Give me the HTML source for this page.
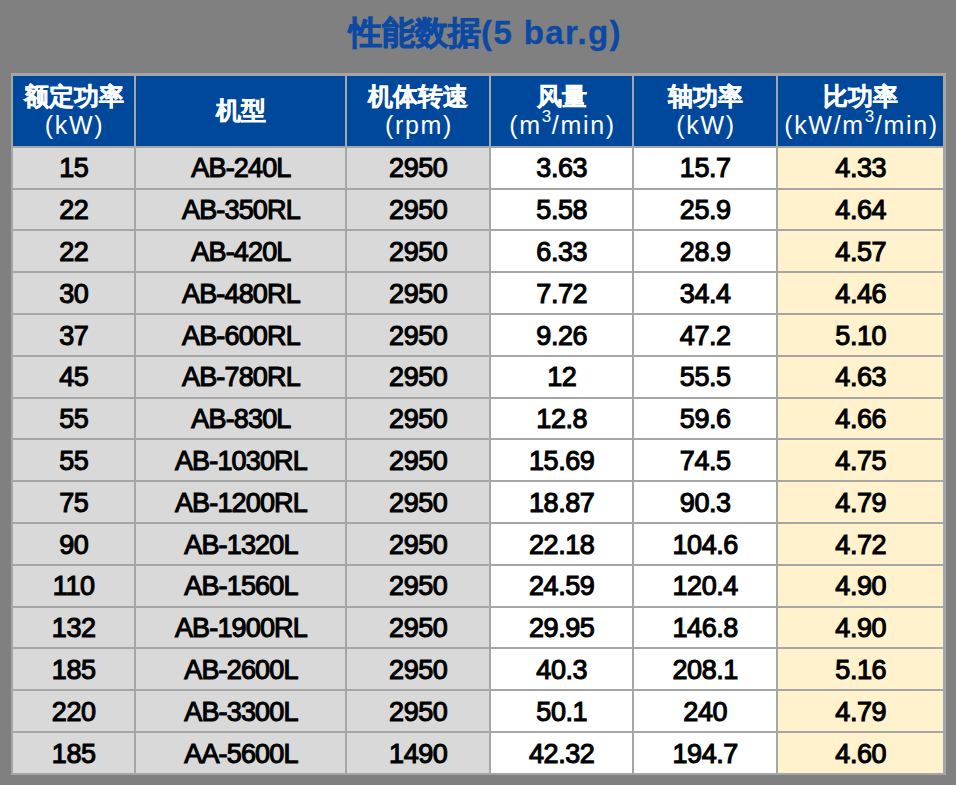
<!DOCTYPE html>
<html><head><meta charset="utf-8"><style>
html,body{margin:0;padding:0;}
body{width:956px;height:785px;background:#808080;position:relative;overflow:hidden;font-family:"Liberation Sans",sans-serif;}
.a{position:absolute;}
.l{position:absolute;background:#a6a6a6;}
.t{position:absolute;text-align:center;white-space:nowrap;}
.d{font-size:27px;line-height:30px;color:#000;letter-spacing:-0.8px;-webkit-text-stroke:1.1px #000;}
.h1{font-weight:bold;font-size:25px;line-height:28px;color:#fff;-webkit-text-stroke:0.4px #fff;}
.h2{font-size:25px;line-height:28px;color:#fff;letter-spacing:1.7px;text-indent:2px;}
.title{position:absolute;left:0;width:956px;top:14px;text-align:center;text-indent:15px;font-weight:bold;font-size:33px;line-height:38px;color:#0b49a4;white-space:nowrap;-webkit-text-stroke:0.8px #0b49a4;}
.tl{letter-spacing:1.4px;-webkit-text-stroke:0.3px #0b49a4;}
sup{font-size:17px;line-height:17px;vertical-align:top;position:relative;top:-3px;letter-spacing:0.5px;}
</style></head><body>

<div class="title"><span class="tc">性能数据</span><span class="tl">(5 bar.g)</span></div>
<div class="l" style="left:11px;top:73px;width:935px;height:702px"></div>
<div class="a" style="left:13px;top:76px;width:121px;height:70px;background:#00489b"></div>
<div class="a" style="left:136px;top:76px;width:209px;height:70px;background:#00489b"></div>
<div class="a" style="left:347px;top:76px;width:142px;height:70px;background:#00489b"></div>
<div class="a" style="left:491px;top:76px;width:141px;height:70px;background:#00489b"></div>
<div class="a" style="left:634px;top:76px;width:142px;height:70px;background:#00489b"></div>
<div class="a" style="left:778px;top:76px;width:165px;height:70px;background:#00489b"></div>
<div class="a" style="left:13px;top:148px;width:121px;height:40px;background:#d9d9d9"></div>
<div class="a" style="left:136px;top:148px;width:209px;height:40px;background:#d9d9d9"></div>
<div class="a" style="left:347px;top:148px;width:142px;height:40px;background:#d9d9d9"></div>
<div class="a" style="left:491px;top:148px;width:141px;height:40px;background:#ffffff"></div>
<div class="a" style="left:634px;top:148px;width:142px;height:40px;background:#ffffff"></div>
<div class="a" style="left:778px;top:148px;width:165px;height:40px;background:#fff2cc"></div>
<div class="a" style="left:13px;top:190px;width:121px;height:39px;background:#d9d9d9"></div>
<div class="a" style="left:136px;top:190px;width:209px;height:39px;background:#d9d9d9"></div>
<div class="a" style="left:347px;top:190px;width:142px;height:39px;background:#d9d9d9"></div>
<div class="a" style="left:491px;top:190px;width:141px;height:39px;background:#ffffff"></div>
<div class="a" style="left:634px;top:190px;width:142px;height:39px;background:#ffffff"></div>
<div class="a" style="left:778px;top:190px;width:165px;height:39px;background:#fff2cc"></div>
<div class="a" style="left:13px;top:231px;width:121px;height:40px;background:#d9d9d9"></div>
<div class="a" style="left:136px;top:231px;width:209px;height:40px;background:#d9d9d9"></div>
<div class="a" style="left:347px;top:231px;width:142px;height:40px;background:#d9d9d9"></div>
<div class="a" style="left:491px;top:231px;width:141px;height:40px;background:#ffffff"></div>
<div class="a" style="left:634px;top:231px;width:142px;height:40px;background:#ffffff"></div>
<div class="a" style="left:778px;top:231px;width:165px;height:40px;background:#fff2cc"></div>
<div class="a" style="left:13px;top:273px;width:121px;height:40px;background:#d9d9d9"></div>
<div class="a" style="left:136px;top:273px;width:209px;height:40px;background:#d9d9d9"></div>
<div class="a" style="left:347px;top:273px;width:142px;height:40px;background:#d9d9d9"></div>
<div class="a" style="left:491px;top:273px;width:141px;height:40px;background:#ffffff"></div>
<div class="a" style="left:634px;top:273px;width:142px;height:40px;background:#ffffff"></div>
<div class="a" style="left:778px;top:273px;width:165px;height:40px;background:#fff2cc"></div>
<div class="a" style="left:13px;top:315px;width:121px;height:40px;background:#d9d9d9"></div>
<div class="a" style="left:136px;top:315px;width:209px;height:40px;background:#d9d9d9"></div>
<div class="a" style="left:347px;top:315px;width:142px;height:40px;background:#d9d9d9"></div>
<div class="a" style="left:491px;top:315px;width:141px;height:40px;background:#ffffff"></div>
<div class="a" style="left:634px;top:315px;width:142px;height:40px;background:#ffffff"></div>
<div class="a" style="left:778px;top:315px;width:165px;height:40px;background:#fff2cc"></div>
<div class="a" style="left:13px;top:357px;width:121px;height:40px;background:#d9d9d9"></div>
<div class="a" style="left:136px;top:357px;width:209px;height:40px;background:#d9d9d9"></div>
<div class="a" style="left:347px;top:357px;width:142px;height:40px;background:#d9d9d9"></div>
<div class="a" style="left:491px;top:357px;width:141px;height:40px;background:#ffffff"></div>
<div class="a" style="left:634px;top:357px;width:142px;height:40px;background:#ffffff"></div>
<div class="a" style="left:778px;top:357px;width:165px;height:40px;background:#fff2cc"></div>
<div class="a" style="left:13px;top:399px;width:121px;height:39px;background:#d9d9d9"></div>
<div class="a" style="left:136px;top:399px;width:209px;height:39px;background:#d9d9d9"></div>
<div class="a" style="left:347px;top:399px;width:142px;height:39px;background:#d9d9d9"></div>
<div class="a" style="left:491px;top:399px;width:141px;height:39px;background:#ffffff"></div>
<div class="a" style="left:634px;top:399px;width:142px;height:39px;background:#ffffff"></div>
<div class="a" style="left:778px;top:399px;width:165px;height:39px;background:#fff2cc"></div>
<div class="a" style="left:13px;top:440px;width:121px;height:40px;background:#d9d9d9"></div>
<div class="a" style="left:136px;top:440px;width:209px;height:40px;background:#d9d9d9"></div>
<div class="a" style="left:347px;top:440px;width:142px;height:40px;background:#d9d9d9"></div>
<div class="a" style="left:491px;top:440px;width:141px;height:40px;background:#ffffff"></div>
<div class="a" style="left:634px;top:440px;width:142px;height:40px;background:#ffffff"></div>
<div class="a" style="left:778px;top:440px;width:165px;height:40px;background:#fff2cc"></div>
<div class="a" style="left:13px;top:482px;width:121px;height:40px;background:#d9d9d9"></div>
<div class="a" style="left:136px;top:482px;width:209px;height:40px;background:#d9d9d9"></div>
<div class="a" style="left:347px;top:482px;width:142px;height:40px;background:#d9d9d9"></div>
<div class="a" style="left:491px;top:482px;width:141px;height:40px;background:#ffffff"></div>
<div class="a" style="left:634px;top:482px;width:142px;height:40px;background:#ffffff"></div>
<div class="a" style="left:778px;top:482px;width:165px;height:40px;background:#fff2cc"></div>
<div class="a" style="left:13px;top:524px;width:121px;height:40px;background:#d9d9d9"></div>
<div class="a" style="left:136px;top:524px;width:209px;height:40px;background:#d9d9d9"></div>
<div class="a" style="left:347px;top:524px;width:142px;height:40px;background:#d9d9d9"></div>
<div class="a" style="left:491px;top:524px;width:141px;height:40px;background:#ffffff"></div>
<div class="a" style="left:634px;top:524px;width:142px;height:40px;background:#ffffff"></div>
<div class="a" style="left:778px;top:524px;width:165px;height:40px;background:#fff2cc"></div>
<div class="a" style="left:13px;top:566px;width:121px;height:40px;background:#d9d9d9"></div>
<div class="a" style="left:136px;top:566px;width:209px;height:40px;background:#d9d9d9"></div>
<div class="a" style="left:347px;top:566px;width:142px;height:40px;background:#d9d9d9"></div>
<div class="a" style="left:491px;top:566px;width:141px;height:40px;background:#ffffff"></div>
<div class="a" style="left:634px;top:566px;width:142px;height:40px;background:#ffffff"></div>
<div class="a" style="left:778px;top:566px;width:165px;height:40px;background:#fff2cc"></div>
<div class="a" style="left:13px;top:608px;width:121px;height:39px;background:#d9d9d9"></div>
<div class="a" style="left:136px;top:608px;width:209px;height:39px;background:#d9d9d9"></div>
<div class="a" style="left:347px;top:608px;width:142px;height:39px;background:#d9d9d9"></div>
<div class="a" style="left:491px;top:608px;width:141px;height:39px;background:#ffffff"></div>
<div class="a" style="left:634px;top:608px;width:142px;height:39px;background:#ffffff"></div>
<div class="a" style="left:778px;top:608px;width:165px;height:39px;background:#fff2cc"></div>
<div class="a" style="left:13px;top:649px;width:121px;height:40px;background:#d9d9d9"></div>
<div class="a" style="left:136px;top:649px;width:209px;height:40px;background:#d9d9d9"></div>
<div class="a" style="left:347px;top:649px;width:142px;height:40px;background:#d9d9d9"></div>
<div class="a" style="left:491px;top:649px;width:141px;height:40px;background:#ffffff"></div>
<div class="a" style="left:634px;top:649px;width:142px;height:40px;background:#ffffff"></div>
<div class="a" style="left:778px;top:649px;width:165px;height:40px;background:#fff2cc"></div>
<div class="a" style="left:13px;top:691px;width:121px;height:40px;background:#d9d9d9"></div>
<div class="a" style="left:136px;top:691px;width:209px;height:40px;background:#d9d9d9"></div>
<div class="a" style="left:347px;top:691px;width:142px;height:40px;background:#d9d9d9"></div>
<div class="a" style="left:491px;top:691px;width:141px;height:40px;background:#ffffff"></div>
<div class="a" style="left:634px;top:691px;width:142px;height:40px;background:#ffffff"></div>
<div class="a" style="left:778px;top:691px;width:165px;height:40px;background:#fff2cc"></div>
<div class="a" style="left:13px;top:733px;width:121px;height:40px;background:#d9d9d9"></div>
<div class="a" style="left:136px;top:733px;width:209px;height:40px;background:#d9d9d9"></div>
<div class="a" style="left:347px;top:733px;width:142px;height:40px;background:#d9d9d9"></div>
<div class="a" style="left:491px;top:733px;width:141px;height:40px;background:#ffffff"></div>
<div class="a" style="left:634px;top:733px;width:142px;height:40px;background:#ffffff"></div>
<div class="a" style="left:778px;top:733px;width:165px;height:40px;background:#fff2cc"></div>
<div class="t h1" style="left:13px;width:121px;top:82px">额定功率</div>
<div class="t h2" style="left:13px;width:121px;top:111px">(kW)</div>
<div class="t h1" style="left:136px;width:209px;top:96px">机型</div>
<div class="t h1" style="left:347px;width:142px;top:82px">机体转速</div>
<div class="t h2" style="left:347px;width:142px;top:111px">(rpm)</div>
<div class="t h1" style="left:491px;width:141px;top:82px">风量</div>
<div class="t h2" style="left:491px;width:141px;top:111px">(m<sup>3</sup>/min)</div>
<div class="t h1" style="left:634px;width:142px;top:82px">轴功率</div>
<div class="t h2" style="left:634px;width:142px;top:111px">(kW)</div>
<div class="t h1" style="left:778px;width:165px;top:82px">比功率</div>
<div class="t h2" style="left:778px;width:165px;top:111px">(kW/m<sup>3</sup>/min)</div>
<div class="t d" style="left:13px;width:121px;top:153.30px;letter-spacing:-0.45px;text-indent:0.45px">15</div>
<div class="t d" style="left:136px;width:209px;top:153.30px;letter-spacing:-0.85px;text-indent:0.85px">AB-240L</div>
<div class="t d" style="left:347px;width:142px;top:153.30px;letter-spacing:-0.45px;text-indent:0.45px">2950</div>
<div class="t d" style="left:491px;width:141px;top:153.30px;letter-spacing:-0.45px;text-indent:0.45px">3.63</div>
<div class="t d" style="left:634px;width:142px;top:153.30px;letter-spacing:-0.45px;text-indent:0.45px">15.7</div>
<div class="t d" style="left:778px;width:165px;top:153.30px;letter-spacing:-0.45px;text-indent:0.45px">4.33</div>
<div class="t d" style="left:13px;width:121px;top:195.10px;letter-spacing:-0.45px;text-indent:0.45px">22</div>
<div class="t d" style="left:136px;width:209px;top:195.10px;letter-spacing:-0.85px;text-indent:0.85px">AB-350RL</div>
<div class="t d" style="left:347px;width:142px;top:195.10px;letter-spacing:-0.45px;text-indent:0.45px">2950</div>
<div class="t d" style="left:491px;width:141px;top:195.10px;letter-spacing:-0.45px;text-indent:0.45px">5.58</div>
<div class="t d" style="left:634px;width:142px;top:195.10px;letter-spacing:-0.45px;text-indent:0.45px">25.9</div>
<div class="t d" style="left:778px;width:165px;top:195.10px;letter-spacing:-0.45px;text-indent:0.45px">4.64</div>
<div class="t d" style="left:13px;width:121px;top:236.90px;letter-spacing:-0.45px;text-indent:0.45px">22</div>
<div class="t d" style="left:136px;width:209px;top:236.90px;letter-spacing:-0.85px;text-indent:0.85px">AB-420L</div>
<div class="t d" style="left:347px;width:142px;top:236.90px;letter-spacing:-0.45px;text-indent:0.45px">2950</div>
<div class="t d" style="left:491px;width:141px;top:236.90px;letter-spacing:-0.45px;text-indent:0.45px">6.33</div>
<div class="t d" style="left:634px;width:142px;top:236.90px;letter-spacing:-0.45px;text-indent:0.45px">28.9</div>
<div class="t d" style="left:778px;width:165px;top:236.90px;letter-spacing:-0.45px;text-indent:0.45px">4.57</div>
<div class="t d" style="left:13px;width:121px;top:278.70px;letter-spacing:-0.45px;text-indent:0.45px">30</div>
<div class="t d" style="left:136px;width:209px;top:278.70px;letter-spacing:-0.85px;text-indent:0.85px">AB-480RL</div>
<div class="t d" style="left:347px;width:142px;top:278.70px;letter-spacing:-0.45px;text-indent:0.45px">2950</div>
<div class="t d" style="left:491px;width:141px;top:278.70px;letter-spacing:-0.45px;text-indent:0.45px">7.72</div>
<div class="t d" style="left:634px;width:142px;top:278.70px;letter-spacing:-0.45px;text-indent:0.45px">34.4</div>
<div class="t d" style="left:778px;width:165px;top:278.70px;letter-spacing:-0.45px;text-indent:0.45px">4.46</div>
<div class="t d" style="left:13px;width:121px;top:320.50px;letter-spacing:-0.45px;text-indent:0.45px">37</div>
<div class="t d" style="left:136px;width:209px;top:320.50px;letter-spacing:-0.85px;text-indent:0.85px">AB-600RL</div>
<div class="t d" style="left:347px;width:142px;top:320.50px;letter-spacing:-0.45px;text-indent:0.45px">2950</div>
<div class="t d" style="left:491px;width:141px;top:320.50px;letter-spacing:-0.45px;text-indent:0.45px">9.26</div>
<div class="t d" style="left:634px;width:142px;top:320.50px;letter-spacing:-0.45px;text-indent:0.45px">47.2</div>
<div class="t d" style="left:778px;width:165px;top:320.50px;letter-spacing:-0.45px;text-indent:0.45px">5.10</div>
<div class="t d" style="left:13px;width:121px;top:362.30px;letter-spacing:-0.45px;text-indent:0.45px">45</div>
<div class="t d" style="left:136px;width:209px;top:362.30px;letter-spacing:-0.85px;text-indent:0.85px">AB-780RL</div>
<div class="t d" style="left:347px;width:142px;top:362.30px;letter-spacing:-0.45px;text-indent:0.45px">2950</div>
<div class="t d" style="left:491px;width:141px;top:362.30px;letter-spacing:-0.45px;text-indent:0.45px">12</div>
<div class="t d" style="left:634px;width:142px;top:362.30px;letter-spacing:-0.45px;text-indent:0.45px">55.5</div>
<div class="t d" style="left:778px;width:165px;top:362.30px;letter-spacing:-0.45px;text-indent:0.45px">4.63</div>
<div class="t d" style="left:13px;width:121px;top:404.10px;letter-spacing:-0.45px;text-indent:0.45px">55</div>
<div class="t d" style="left:136px;width:209px;top:404.10px;letter-spacing:-0.85px;text-indent:0.85px">AB-830L</div>
<div class="t d" style="left:347px;width:142px;top:404.10px;letter-spacing:-0.45px;text-indent:0.45px">2950</div>
<div class="t d" style="left:491px;width:141px;top:404.10px;letter-spacing:-0.45px;text-indent:0.45px">12.8</div>
<div class="t d" style="left:634px;width:142px;top:404.10px;letter-spacing:-0.45px;text-indent:0.45px">59.6</div>
<div class="t d" style="left:778px;width:165px;top:404.10px;letter-spacing:-0.45px;text-indent:0.45px">4.66</div>
<div class="t d" style="left:13px;width:121px;top:445.90px;letter-spacing:-0.45px;text-indent:0.45px">55</div>
<div class="t d" style="left:136px;width:209px;top:445.90px;letter-spacing:-0.85px;text-indent:0.85px">AB-1030RL</div>
<div class="t d" style="left:347px;width:142px;top:445.90px;letter-spacing:-0.45px;text-indent:0.45px">2950</div>
<div class="t d" style="left:491px;width:141px;top:445.90px;letter-spacing:-0.45px;text-indent:0.45px">15.69</div>
<div class="t d" style="left:634px;width:142px;top:445.90px;letter-spacing:-0.45px;text-indent:0.45px">74.5</div>
<div class="t d" style="left:778px;width:165px;top:445.90px;letter-spacing:-0.45px;text-indent:0.45px">4.75</div>
<div class="t d" style="left:13px;width:121px;top:487.70px;letter-spacing:-0.45px;text-indent:0.45px">75</div>
<div class="t d" style="left:136px;width:209px;top:487.70px;letter-spacing:-0.85px;text-indent:0.85px">AB-1200RL</div>
<div class="t d" style="left:347px;width:142px;top:487.70px;letter-spacing:-0.45px;text-indent:0.45px">2950</div>
<div class="t d" style="left:491px;width:141px;top:487.70px;letter-spacing:-0.45px;text-indent:0.45px">18.87</div>
<div class="t d" style="left:634px;width:142px;top:487.70px;letter-spacing:-0.45px;text-indent:0.45px">90.3</div>
<div class="t d" style="left:778px;width:165px;top:487.70px;letter-spacing:-0.45px;text-indent:0.45px">4.79</div>
<div class="t d" style="left:13px;width:121px;top:529.50px;letter-spacing:-0.45px;text-indent:0.45px">90</div>
<div class="t d" style="left:136px;width:209px;top:529.50px;letter-spacing:-0.85px;text-indent:0.85px">AB-1320L</div>
<div class="t d" style="left:347px;width:142px;top:529.50px;letter-spacing:-0.45px;text-indent:0.45px">2950</div>
<div class="t d" style="left:491px;width:141px;top:529.50px;letter-spacing:-0.45px;text-indent:0.45px">22.18</div>
<div class="t d" style="left:634px;width:142px;top:529.50px;letter-spacing:-0.45px;text-indent:0.45px">104.6</div>
<div class="t d" style="left:778px;width:165px;top:529.50px;letter-spacing:-0.45px;text-indent:0.45px">4.72</div>
<div class="t d" style="left:13px;width:121px;top:571.30px;letter-spacing:-0.45px;text-indent:0.45px">110</div>
<div class="t d" style="left:136px;width:209px;top:571.30px;letter-spacing:-0.85px;text-indent:0.85px">AB-1560L</div>
<div class="t d" style="left:347px;width:142px;top:571.30px;letter-spacing:-0.45px;text-indent:0.45px">2950</div>
<div class="t d" style="left:491px;width:141px;top:571.30px;letter-spacing:-0.45px;text-indent:0.45px">24.59</div>
<div class="t d" style="left:634px;width:142px;top:571.30px;letter-spacing:-0.45px;text-indent:0.45px">120.4</div>
<div class="t d" style="left:778px;width:165px;top:571.30px;letter-spacing:-0.45px;text-indent:0.45px">4.90</div>
<div class="t d" style="left:13px;width:121px;top:613.10px;letter-spacing:-0.45px;text-indent:0.45px">132</div>
<div class="t d" style="left:136px;width:209px;top:613.10px;letter-spacing:-0.85px;text-indent:0.85px">AB-1900RL</div>
<div class="t d" style="left:347px;width:142px;top:613.10px;letter-spacing:-0.45px;text-indent:0.45px">2950</div>
<div class="t d" style="left:491px;width:141px;top:613.10px;letter-spacing:-0.45px;text-indent:0.45px">29.95</div>
<div class="t d" style="left:634px;width:142px;top:613.10px;letter-spacing:-0.45px;text-indent:0.45px">146.8</div>
<div class="t d" style="left:778px;width:165px;top:613.10px;letter-spacing:-0.45px;text-indent:0.45px">4.90</div>
<div class="t d" style="left:13px;width:121px;top:654.90px;letter-spacing:-0.45px;text-indent:0.45px">185</div>
<div class="t d" style="left:136px;width:209px;top:654.90px;letter-spacing:-0.85px;text-indent:0.85px">AB-2600L</div>
<div class="t d" style="left:347px;width:142px;top:654.90px;letter-spacing:-0.45px;text-indent:0.45px">2950</div>
<div class="t d" style="left:491px;width:141px;top:654.90px;letter-spacing:-0.45px;text-indent:0.45px">40.3</div>
<div class="t d" style="left:634px;width:142px;top:654.90px;letter-spacing:-0.45px;text-indent:0.45px">208.1</div>
<div class="t d" style="left:778px;width:165px;top:654.90px;letter-spacing:-0.45px;text-indent:0.45px">5.16</div>
<div class="t d" style="left:13px;width:121px;top:696.70px;letter-spacing:-0.45px;text-indent:0.45px">220</div>
<div class="t d" style="left:136px;width:209px;top:696.70px;letter-spacing:-0.85px;text-indent:0.85px">AB-3300L</div>
<div class="t d" style="left:347px;width:142px;top:696.70px;letter-spacing:-0.45px;text-indent:0.45px">2950</div>
<div class="t d" style="left:491px;width:141px;top:696.70px;letter-spacing:-0.45px;text-indent:0.45px">50.1</div>
<div class="t d" style="left:634px;width:142px;top:696.70px;letter-spacing:-0.45px;text-indent:0.45px">240</div>
<div class="t d" style="left:778px;width:165px;top:696.70px;letter-spacing:-0.45px;text-indent:0.45px">4.79</div>
<div class="t d" style="left:13px;width:121px;top:738.50px;letter-spacing:-0.45px;text-indent:0.45px">185</div>
<div class="t d" style="left:136px;width:209px;top:738.50px;letter-spacing:-0.85px;text-indent:0.85px">AA-5600L</div>
<div class="t d" style="left:347px;width:142px;top:738.50px;letter-spacing:-0.45px;text-indent:0.45px">1490</div>
<div class="t d" style="left:491px;width:141px;top:738.50px;letter-spacing:-0.45px;text-indent:0.45px">42.32</div>
<div class="t d" style="left:634px;width:142px;top:738.50px;letter-spacing:-0.45px;text-indent:0.45px">194.7</div>
<div class="t d" style="left:778px;width:165px;top:738.50px;letter-spacing:-0.45px;text-indent:0.45px">4.60</div>
</body></html>
